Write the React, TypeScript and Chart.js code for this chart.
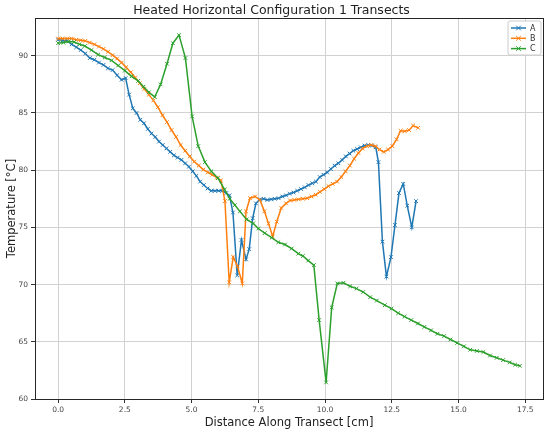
import React, { useEffect, useRef } from "react";
import { Chart, registerables } from "chart.js";

Chart.register(...registerables);

const titleText = "Heated Horizontal Configuration 1 Transects";
const xLabel = "Distance Along Transect [cm]";
const yLabel = "Temperature [°C]";
const seriesNames = ["A", "B", "C"];
const seriesColors = ["#1f77b4", "#ff7f0e", "#2ca02c"];
const xTicks = [0, 2.5, 5, 7.5, 10, 12.5, 15, 17.5];
const yTicks = [60, 65, 70, 75, 80, 85, 90];
const xRange = [-0.865, 18.165];
const yRange = [60, 93.3];

const aX = [0, 0.17, 0.34, 0.51, 0.68, 0.85, 1.02, 1.19, 1.36, 1.53, 1.7, 1.87, 2.04, 2.21, 2.38, 2.53, 2.66, 2.8, 2.94, 3.08, 3.22, 3.36, 3.5, 3.64, 3.78, 3.92, 4.06, 4.2, 4.34, 4.48, 4.62, 4.76, 4.9, 5.04, 5.18, 5.32, 5.46, 5.6, 5.74, 5.88, 6.02, 6.16, 6.3, 6.42, 6.55, 6.71, 6.87, 7.04, 7.16, 7.29, 7.41, 7.56, 7.7, 7.84, 7.98, 8.12, 8.26, 8.4, 8.54, 8.68, 8.82, 8.96, 9.1, 9.24, 9.38, 9.52, 9.66, 9.8, 9.94, 10.08, 10.22, 10.36, 10.5, 10.64, 10.78, 10.92, 11.06, 11.2, 11.34, 11.48, 11.62, 11.76, 11.9, 12.0, 12.15, 12.3, 12.47, 12.62, 12.77, 12.93, 13.08, 13.25, 13.41];
const aY = [91.4, 91.35, 91.3, 91.0, 90.75, 90.5, 90.2, 89.8, 89.65, 89.4, 89.2, 88.9, 88.75, 88.3, 87.9, 88.05, 86.6, 85.4, 85.0, 84.4, 84.1, 83.6, 83.2, 82.9, 82.5, 82.2, 81.9, 81.6, 81.3, 81.1, 80.9, 80.6, 80.3, 79.9, 79.5, 79.0, 78.7, 78.4, 78.2, 78.2, 78.2, 78.2, 78.0, 77.8, 76.3, 70.8, 73.9, 72.2, 73.1, 75.8, 77.1, 77.45, 77.5, 77.4, 77.45, 77.5, 77.55, 77.7, 77.8, 77.95, 78.05, 78.2, 78.35, 78.5, 78.7, 78.85, 79.0, 79.4, 79.6, 79.8, 80.1, 80.4, 80.6, 80.9, 81.2, 81.45, 81.7, 81.85, 82.0, 82.15, 82.2, 82.15, 82.0, 80.7, 73.75, 70.7, 72.4, 75.2, 78.0, 78.8, 76.9, 75.0, 77.3];

const bX = [0, 0.17, 0.34, 0.51, 0.68, 0.85, 1.02, 1.19, 1.36, 1.53, 1.7, 1.87, 2.04, 2.21, 2.38, 2.55, 2.72, 2.89, 3.06, 3.23, 3.4, 3.57, 3.74, 3.91, 4.08, 4.25, 4.42, 4.59, 4.76, 4.93, 5.1, 5.27, 5.44, 5.61, 5.78, 5.95, 6.1, 6.25, 6.41, 6.56, 6.72, 6.9, 7.04, 7.19, 7.38, 7.56, 7.73, 7.88, 8.04, 8.19, 8.36, 8.54, 8.69, 8.85, 9.01, 9.17, 9.33, 9.49, 9.65, 9.81, 9.97, 10.13, 10.29, 10.45, 10.61, 10.77, 10.93, 11.09, 11.25, 11.41, 11.57, 11.73, 11.89, 12.04, 12.2, 12.36, 12.52, 12.68, 12.83, 12.99, 13.15, 13.3, 13.49];
const bY = [91.5, 91.5, 91.5, 91.5, 91.4, 91.35, 91.3, 91.15, 91.0, 90.8, 90.6, 90.35, 90.05, 89.75, 89.4, 89.0, 88.55, 88.1, 87.6, 87.1, 86.6, 86.1, 85.5, 84.8, 84.2, 83.5, 82.9, 82.2, 81.7, 81.2, 80.75, 80.4, 80.05, 79.8, 79.6, 79.35, 79.1, 77.3, 70.2, 72.4, 71.6, 70.1, 76.4, 77.55, 77.7, 77.4, 76.4, 75.35, 74.2, 75.5, 76.7, 77.1, 77.35, 77.4, 77.45, 77.5, 77.55, 77.7, 77.85, 78.1, 78.35, 78.6, 78.8, 79.0, 79.4, 79.9, 80.4, 81.0, 81.5, 81.9, 82.1, 82.2, 82.1, 81.8, 81.6, 81.8, 82.1, 82.7, 83.45, 83.4, 83.5, 83.9, 83.7];

const cX = [0, 0.2, 0.4, 0.6, 0.8, 1.0, 1.25, 1.5, 1.75, 2.0, 2.25, 2.5, 2.75, 3.0, 3.2, 3.4, 3.62, 3.84, 4.08, 4.3, 4.53, 4.77, 5.02, 5.25, 5.5, 5.74, 5.99, 6.24, 6.43, 6.62, 6.81, 7.06, 7.31, 7.5, 7.74, 8.0, 8.25, 8.5, 8.75, 9.0, 9.17, 9.37, 9.58, 9.78, 10.04, 10.25, 10.46, 10.69, 10.94, 11.18, 11.43, 11.69, 11.94, 12.24, 12.49, 12.74, 12.98, 13.23, 13.48, 13.72, 13.97, 14.21, 14.46, 14.7, 14.95, 15.2, 15.44, 15.69, 15.93, 16.18, 16.43, 16.67, 16.92, 17.12, 17.3];
const cY = [91.1, 91.15, 91.25, 91.2, 91.0, 90.85, 90.5, 90.1, 89.85, 89.6, 89.15, 88.7, 88.2, 87.8, 87.3, 86.8, 86.4, 87.5, 89.3, 91.1, 91.8, 89.8, 84.7, 82.1, 80.7, 79.9, 79.3, 78.3, 77.5, 76.95, 76.4, 75.7, 75.35, 74.9, 74.5, 74.1, 73.7, 73.5, 73.15, 72.7, 72.5, 72.1, 71.7, 66.9, 61.45, 68.0, 70.1, 70.15, 69.85, 69.65, 69.35, 68.9, 68.6, 68.2, 67.9, 67.5, 67.2, 66.9, 66.6, 66.3, 66.0, 65.7, 65.5, 65.2, 64.9, 64.6, 64.3, 64.2, 64.1, 63.8, 63.6, 63.4, 63.2, 63.0, 62.9];

const seriesX = [aX, bX, cX];
const seriesY = [aY, bY, cY];

const FONT = "'DejaVu Sans', sans-serif";

const framePlugin = {
  id: "frame",
  afterDraw(chart: any) {
    const { ctx, chartArea } = chart;
    ctx.save();
    ctx.strokeStyle = "#262626";
    ctx.lineWidth = 1;
    ctx.strokeRect(
      Math.round(chartArea.left) + 0.5,
      Math.round(chartArea.top) + 0.5,
      Math.round(chartArea.right - chartArea.left),
      Math.round(chartArea.bottom - chartArea.top)
    );
    ctx.restore();
  },
};

function drawCross(ctx: CanvasRenderingContext2D, x: number, y: number, r: number) {
  ctx.beginPath();
  ctx.moveTo(x - r, y - r);
  ctx.lineTo(x + r, y + r);
  ctx.moveTo(x - r, y + r);
  ctx.lineTo(x + r, y - r);
  ctx.stroke();
}

const legendPlugin = {
  id: "insideLegend",
  afterDraw(chart: any) {
    const { ctx, chartArea } = chart;
    const w = 33;
    const h = 34;
    const x0 = chartArea.right - 2 - w;
    const y0 = chartArea.top + 3;
    ctx.save();
    ctx.fillStyle = "rgba(255,255,255,0.85)";
    ctx.strokeStyle = "#cccccc";
    ctx.lineWidth = 1;
    ctx.beginPath();
    const r = 2;
    ctx.moveTo(x0 + r, y0);
    ctx.lineTo(x0 + w - r, y0);
    ctx.arcTo(x0 + w, y0, x0 + w, y0 + r, r);
    ctx.lineTo(x0 + w, y0 + h - r);
    ctx.arcTo(x0 + w, y0 + h, x0 + w - r, y0 + h, r);
    ctx.lineTo(x0 + r, y0 + h);
    ctx.arcTo(x0, y0 + h, x0, y0 + h - r, r);
    ctx.lineTo(x0, y0 + r);
    ctx.arcTo(x0, y0, x0 + r, y0, r);
    ctx.closePath();
    ctx.fill();
    ctx.stroke();
    chart.data.datasets.forEach((ds: any, i: number) => {
      const y = y0 + 7 + i * 10.3;
      ctx.strokeStyle = ds.borderColor;
      ctx.lineWidth = 1.5;
      ctx.beginPath();
      ctx.moveTo(x0 + 3, y);
      ctx.lineTo(x0 + 18, y);
      ctx.stroke();
      ctx.lineWidth = 1;
      drawCross(ctx, x0 + 10.5, y, 2.3);
      ctx.fillStyle = "#333333";
      ctx.font = "8px " + FONT;
      ctx.textBaseline = "middle";
      ctx.textAlign = "left";
      ctx.fillText(ds.label, x0 + 22, y + 0.5);
    });
    ctx.restore();
  },
};

export default function App() {
  const canvasRef = useRef<HTMLCanvasElement | null>(null);

  useEffect(() => {
    document.body.style.margin = "0";
    const canvas = canvasRef.current;
    if (!canvas) return;
    const datasets = seriesNames.map((name, i) => ({
      label: name,
      data: seriesX[i].map((x, j) => ({ x, y: seriesY[i][j] })),
      borderColor: seriesColors[i],
      backgroundColor: seriesColors[i],
      borderWidth: 1.5,
      pointStyle: "crossRot",
      pointRadius: 2.6,
      pointBorderWidth: 1,
      pointBorderColor: seriesColors[i],
      tension: 0,
      fill: false,
      order: seriesNames.length - 1 - i,
    }));

    const chart = new Chart(canvas, {
      type: "line",
      data: { datasets } as any,
      plugins: [framePlugin, legendPlugin],
      options: {
        animation: false,
        responsive: false,
        devicePixelRatio: 1,
        layout: { padding: { left: 0, right: 7, top: 0, bottom: 0 } },
        plugins: {
          legend: { display: false },
          tooltip: { enabled: false },
          title: {
            display: true,
            text: titleText,
            color: "#222222",
            font: { family: FONT, size: 12.5, weight: "normal" },
            padding: { top: 3, bottom: 0 },
          },
        },
        scales: {
          x: {
            type: "linear",
            min: xRange[0],
            max: xRange[1],
            afterBuildTicks: (scale: any) => {
              scale.ticks = xTicks.map((v) => ({ value: v }));
            },
            afterFit: (scale: any) => {
              scale.height = 31;
            },
            ticks: {
              color: "#444444",
              font: { family: FONT, size: 7.5 },
              padding: 3,
              maxRotation: 0,
              autoSkip: false,
              callback: (v: any) => Number(v).toFixed(1),
            },
            grid: {
              color: "#d2d2d2",
              lineWidth: 1,
              drawTicks: true,
              tickLength: 4,
              tickColor: "#333333",
            },
            border: { display: false },
            title: {
              display: true,
              text: xLabel,
              color: "#222222",
              font: { family: FONT, size: 11.5 },
              padding: { top: 0, bottom: 0 },
            },
          },
          y: {
            type: "linear",
            min: yRange[0],
            max: yRange[1],
            afterBuildTicks: (scale: any) => {
              scale.ticks = yTicks.map((v) => ({ value: v }));
            },
            afterFit: (scale: any) => {
              scale.width = 35;
            },
            ticks: {
              color: "#444444",
              font: { family: FONT, size: 7.5 },
              padding: 3,
              autoSkip: false,
              callback: (v: any) => String(v),
            },
            grid: {
              color: "#d2d2d2",
              lineWidth: 1,
              drawTicks: true,
              tickLength: 4,
              tickColor: "#333333",
            },
            border: { display: false },
            title: {
              display: true,
              text: yLabel,
              color: "#222222",
              font: { family: FONT, size: 11.5 },
              padding: { top: 5, bottom: 0 },
            },
          },
        },
      } as any,
    });
    return () => chart.destroy();
  }, []);

  return (
    <div style={{ position: "fixed", left: 0, top: 0, width: 550, height: 430, background: "#ffffff" }}>
      <canvas ref={canvasRef} width={550} height={430} style={{ width: 550, height: 430, display: "block" }} />
    </div>
  );
}
